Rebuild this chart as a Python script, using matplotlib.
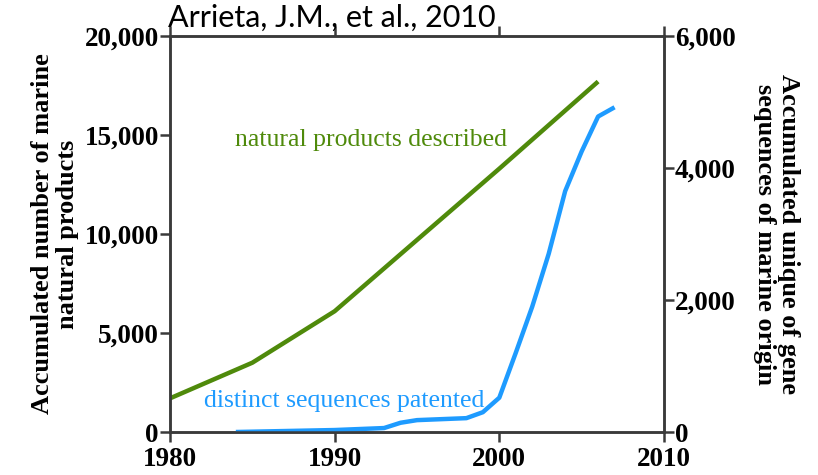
import matplotlib.pyplot as plt
import matplotlib.ticker as mticker

# natural products described (left axis)
np_years = [1980, 1985, 1990, 1995, 2000, 2006]
np_counts = [1700, 3500, 6100, 9700, 13300, 17700]

# distinct sequences patented (right axis)
seq_years = [1984, 1985, 1990, 1993, 1994, 1995, 1996, 1997, 1998, 1999,
             2000, 2001, 2002, 2003, 2004, 2005, 2006, 2007]
seq_counts = [0, 5, 30, 60, 140, 180, 190, 200, 210, 300,
              520, 1200, 1900, 2700, 3650, 4250, 4780, 4920]

x_ticks = [1980, 1990, 2000, 2010]
left_ticks = [0, 5000, 10000, 15000, 20000]
right_ticks = [0, 2000, 4000, 6000]

green = '#4f8a0b'
blue = '#1e9bff'
spine_col = '#3a3a3a'
serif = 'Liberation Serif'

fig = plt.figure(figsize=(8.18, 4.75), dpi=100)
ax = fig.add_axes([0.2078, 0.0905, 0.6039, 0.8337])
ax2 = ax.twinx()

ax.plot(np_years, np_counts, color=green, lw=3.2, solid_capstyle='butt')
ax2.plot(seq_years, seq_counts, color=blue, lw=3.2, solid_capstyle='butt')

ax.set_xlim(1980, 2010)
ax.set_ylim(0, 20000)
ax2.set_ylim(0, 6000)
ax.set_xticks(x_ticks)
ax.set_yticks(left_ticks)
ax2.set_yticks(right_ticks)
fmt = mticker.FuncFormatter(lambda v, p: f'{int(v):,}')
ax.yaxis.set_major_formatter(fmt)
ax2.yaxis.set_major_formatter(fmt)

for a in (ax, ax2):
    for s in a.spines.values():
        s.set_color(spine_col)
        s.set_linewidth(1.8)
    a.tick_params(direction='out', length=7, width=1.8, color=spine_col, pad=1)
    for lab in a.get_xticklabels() + a.get_yticklabels():
        lab.set_fontfamily(serif)
        lab.set_fontweight('bold')
        lab.set_fontsize(19.5)
ax.tick_params(axis='x', top=True, pad=3.5)

ax.set_ylabel('Accumulated number of marine\nnatural products', fontfamily=serif,
              fontweight='bold', fontsize=19, linespacing=1.12, labelpad=4)
ax2.set_ylabel('Accumulated unique of gene\nsequences of marine origin', fontfamily=serif,
               fontweight='bold', fontsize=19, linespacing=1.05, rotation=270,
               labelpad=46)

ax.text(1992.2, 14750, 'natural products described', color=green, fontfamily=serif,
        fontsize=18.5, ha='center', va='center')
ax2.text(1990.6, 470, 'distinct sequences patented', color=blue, fontfamily=serif,
         fontsize=18.5, ha='center', va='center')

fig.text(0.205, 0.962, 'Arrieta, J.M., et al., 2010', fontfamily='Lato', fontsize=22,
         ha='left', va='center', color='black')

fig.savefig('out.png', dpi=100)
